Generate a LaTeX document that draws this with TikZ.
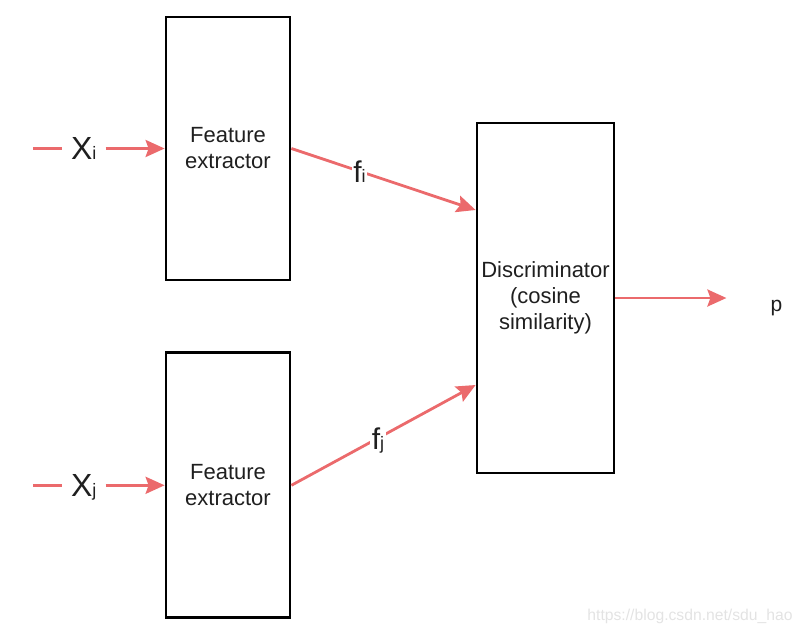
\documentclass[tikz,border=0pt]{standalone}
\usepackage{fontspec}
\setmainfont{Liberation Sans}
\usetikzlibrary{positioning,arrows.meta}
\usepackage{xcolor}
\definecolor{linkred}{HTML}{EB6A6C}

\begin{document}
\begin{tikzpicture}[
      x=1pt, y=-1pt,
      node distance=59pt,
      every node/.style={font=\fontsize{22}{26}\selectfont, text=black!88},
      box/.style={
        draw=black,
        line width=2.8pt,
        minimum width=124pt,
        align=center,
        inner sep=0pt
      },
      link/.style={line width=2.8pt, draw=linkred},
      arrow/.style={link, -{Stealth[length=19pt, width=17pt, inset=3pt]}},
      inlabel/.style={inner xsep=9pt, inner ysep=0pt, text depth=0pt},
      flabel/.style={fill=white, inner sep=1.5pt, text depth=0pt},
      wmark/.style={text=gray!22, font=\fontsize{15.7}{18}\selectfont}
    ]
      \useasboundingbox (0,0) rectangle (802,632);
      \node[box, minimum height=263pt] (extI) at (228,148.5) {Feature\\extractor};
      \node[box, minimum height=265pt, below=70pt of extI] (extJ) {Feature\\extractor};
      \node[box, minimum width=137pt, minimum height=350pt] (disc) at (545.5,298) {Discriminator\\(cosine\\similarity)};
      \node[inlabel, left=of extI] (xi) {{\fontsize{32}{36}\selectfont X}{\fontsize{18}{20}\selectfont i}};
      \node[inlabel, left=of extJ] (xj) {{\fontsize{32}{36}\selectfont X}{\fontsize{18}{20}\selectfont j}};
      \coordinate[left=29pt of xi.west] (xiS);
      \coordinate[left=29pt of xj.west] (xjS);
      \coordinate[right=111pt of disc.east] (outTip);
      \node[right=44pt of outTip, yshift=-10pt, inner sep=0pt, font=\fontsize{21}{24}\selectfont] (p) {p};
      \node[wmark, anchor=base] (wm) at (690,620) {https://blog.csdn.net/sdu\_hao};
      \draw[link] (xiS) -- (xi.west);
      \draw[link] (xjS) -- (xj.west);
      \draw[arrow] (xi) -- (extI);
      \draw[arrow] (xj) -- (extJ);
      \draw[arrow] (extI.east) -- ([yshift=88pt]disc.west)
        node[flabel, pos=0.37] (fi) {{\fontsize{30}{32}\selectfont f}{\fontsize{18}{20}\selectfont i}};
      \draw[arrow] (extJ.east) -- ([yshift=-87pt]disc.west)
        node[flabel, pos=0.47] (fj) {{\fontsize{30}{32}\selectfont f}{\fontsize{18}{20}\selectfont j}};
      \draw[arrow] (disc.east) -- (outTip);
    \end{tikzpicture}
\end{document}
